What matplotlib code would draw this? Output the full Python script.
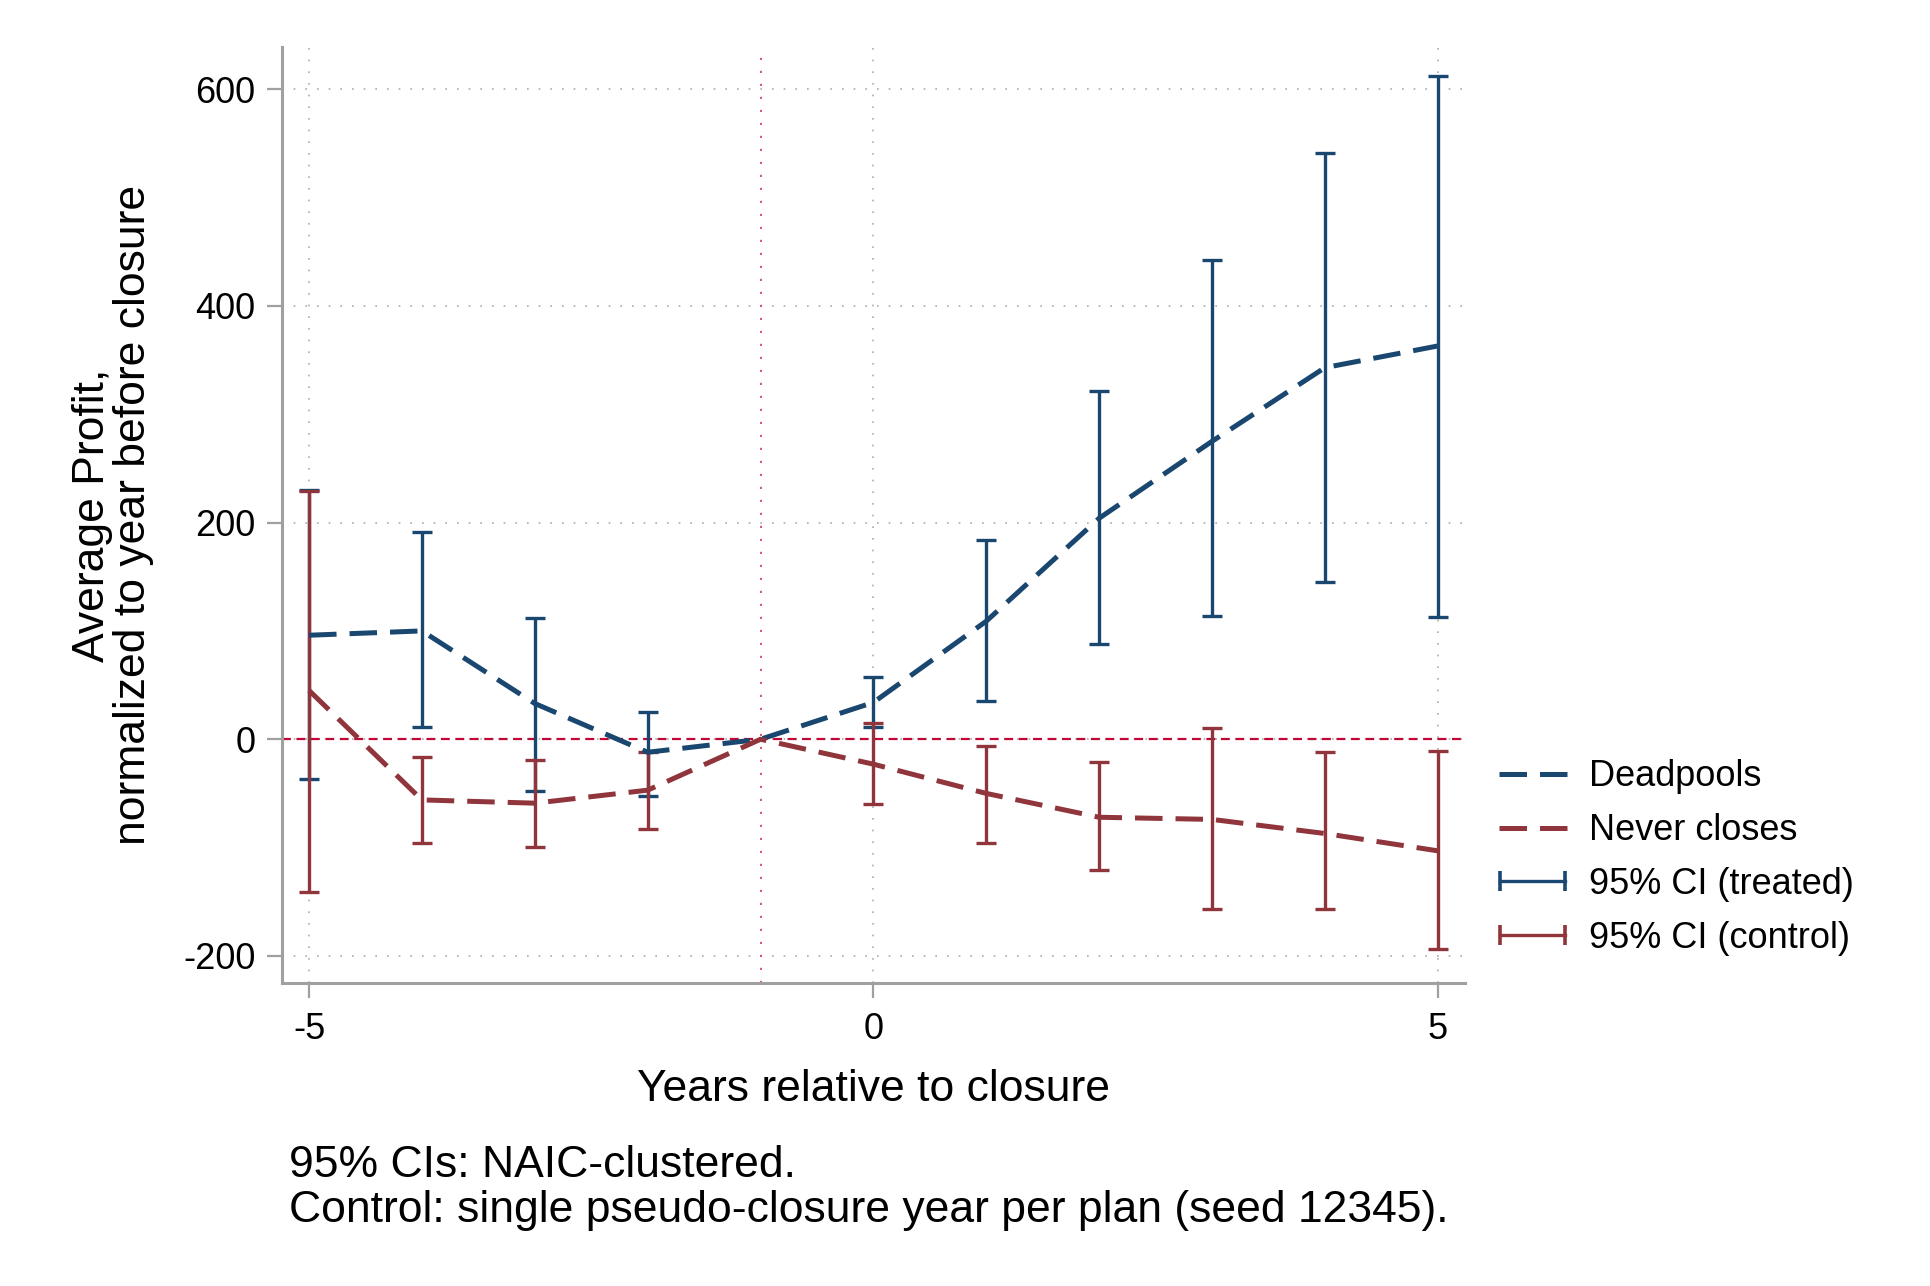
"""
Event-study plot: deadpools vs never-closing plans, profit relative to year before closure
"""
import numpy as np
import matplotlib
matplotlib.use("Agg")
import matplotlib.pyplot as plt
from matplotlib.lines import Line2D
from matplotlib.legend_handler import HandlerLine2D

plt.rcParams['font.family'] = ['Liberation Sans', 'DejaVu Sans']
plt.rcParams['axes.unicode_minus'] = False

years = [-5, -4, -3, -2, -1, 0, 1, 2, 3, 4, 5]

# treated (deadpools)
treated_mean = [96, 100, 33, -12, 0, 34, 109, 204, 275, 343, 363]
treated_lo = [-37, 11, -48, -52, 0, 11, 35, 88, 114, 145, 113]
treated_hi = [230, 191, 112, 25, 0, 57, 184, 321, 442, 541, 612]

# control (never closes)
control_mean = [45, -56, -59, -47, 0, -23, -50, -72, -74, -87, -103]
control_lo = [-141, -96, -99, -83, 0, -60, -96, -121, -157, -157, -194]
control_hi = [229, -16, -19, -12, 0, 15, -6, -21, 10, -12, -11]

blue = "#1a476f"
red = "#90353b"
crimson = "#c10534"

fig = plt.figure(figsize=(19.3, 12.86), dpi=100)
ax = fig.add_axes([0.1461, 0.2356, 0.6129, 0.7279])

yrs = np.array(years)

def ci_bars(mean, lo, hi, color, z):
    mean = np.array(mean, dtype=float)
    err = [mean - np.array(lo), np.array(hi) - mean]
    # skip the reference year (no interval)
    keep = yrs != -1
    ax.errorbar(yrs[keep], mean[keep], yerr=[err[0][keep], err[1][keep]],
                fmt='none', ecolor=color, elinewidth=2.4, capsize=7.5,
                capthick=2.4, zorder=z)

ci_bars(treated_mean, treated_lo, treated_hi, blue, 3)
ci_bars(control_mean, control_lo, control_hi, red, 4)

ax.plot(years, treated_mean, color=blue, lw=3.6, dashes=(5.5, 2.6), zorder=5)
ax.plot(years, control_mean, color=red, lw=3.6, dashes=(5.5, 2.6), zorder=5)

ax.axhline(0, color=crimson, lw=1.6, dashes=(4, 2.5), zorder=2)
ax.axvline(-1, color="#d9466a", lw=1.3, dashes=(1.2, 6), zorder=2)

ax.set_xlim(-5.24, 5.24)
ax.set_ylim(-225, 639)
ax.set_xticks([-5, 0, 5])
ax.set_yticks([-200, 0, 200, 400, 600])
ax.grid(True, color="#ababab", lw=1.2, linestyle=(0, (1, 6)))
ax.set_axisbelow(True)

for s in ['top', 'right']:
    ax.spines[s].set_visible(False)
for s in ['left', 'bottom']:
    ax.spines[s].set_color("#a0a0a0")
    ax.spines[s].set_linewidth(2.2)
ax.tick_params(axis='both', length=11, width=1.6, color="#a0a0a0",
               labelsize=26, pad=8)
ax.tick_params(axis='x', pad=10)

ax.set_xlabel("Years relative to closure", fontsize=32, labelpad=15.5)
ax.set_ylabel("Average Profit,\nnormalized to year before closure", fontsize=32,
              linespacing=1.0)
ax.yaxis.set_label_coords(-0.108, 0.5)

handles = [
    Line2D([0], [0], color=blue, lw=3.6, dashes=(5.5, 2.6)),
    Line2D([0], [0], color=red, lw=3.6, dashes=(5.5, 2.6)),
    Line2D([0, 1], [0, 0], color=blue, lw=2.4, marker='|', markersize=14, mew=2.6),
    Line2D([0, 1], [0, 0], color=red, lw=2.4, marker='|', markersize=14, mew=2.6),
]
labels = ["Deadpools", "Never closes", "95% CI (treated)", "95% CI (control)"]
ci_handler = HandlerLine2D(marker_pad=0.05, numpoints=2)
leg = fig.legend(handles, labels, loc='upper left', bbox_to_anchor=(0.7596, 0.4347),
                 frameon=False, fontsize=26, handlelength=1.9, handletextpad=0.6,
                 labelspacing=0.52,
                 handler_map={handles[2]: ci_handler, handles[3]: ci_handler})

fig.text(0.1497, 0.0762, "95% CIs: NAIC-clustered.\nControl: single pseudo-closure year per plan (seed 12345).",
         fontsize=32, va='center', ha='left', linespacing=1.1)

fig.savefig("out.png", dpi=100)
